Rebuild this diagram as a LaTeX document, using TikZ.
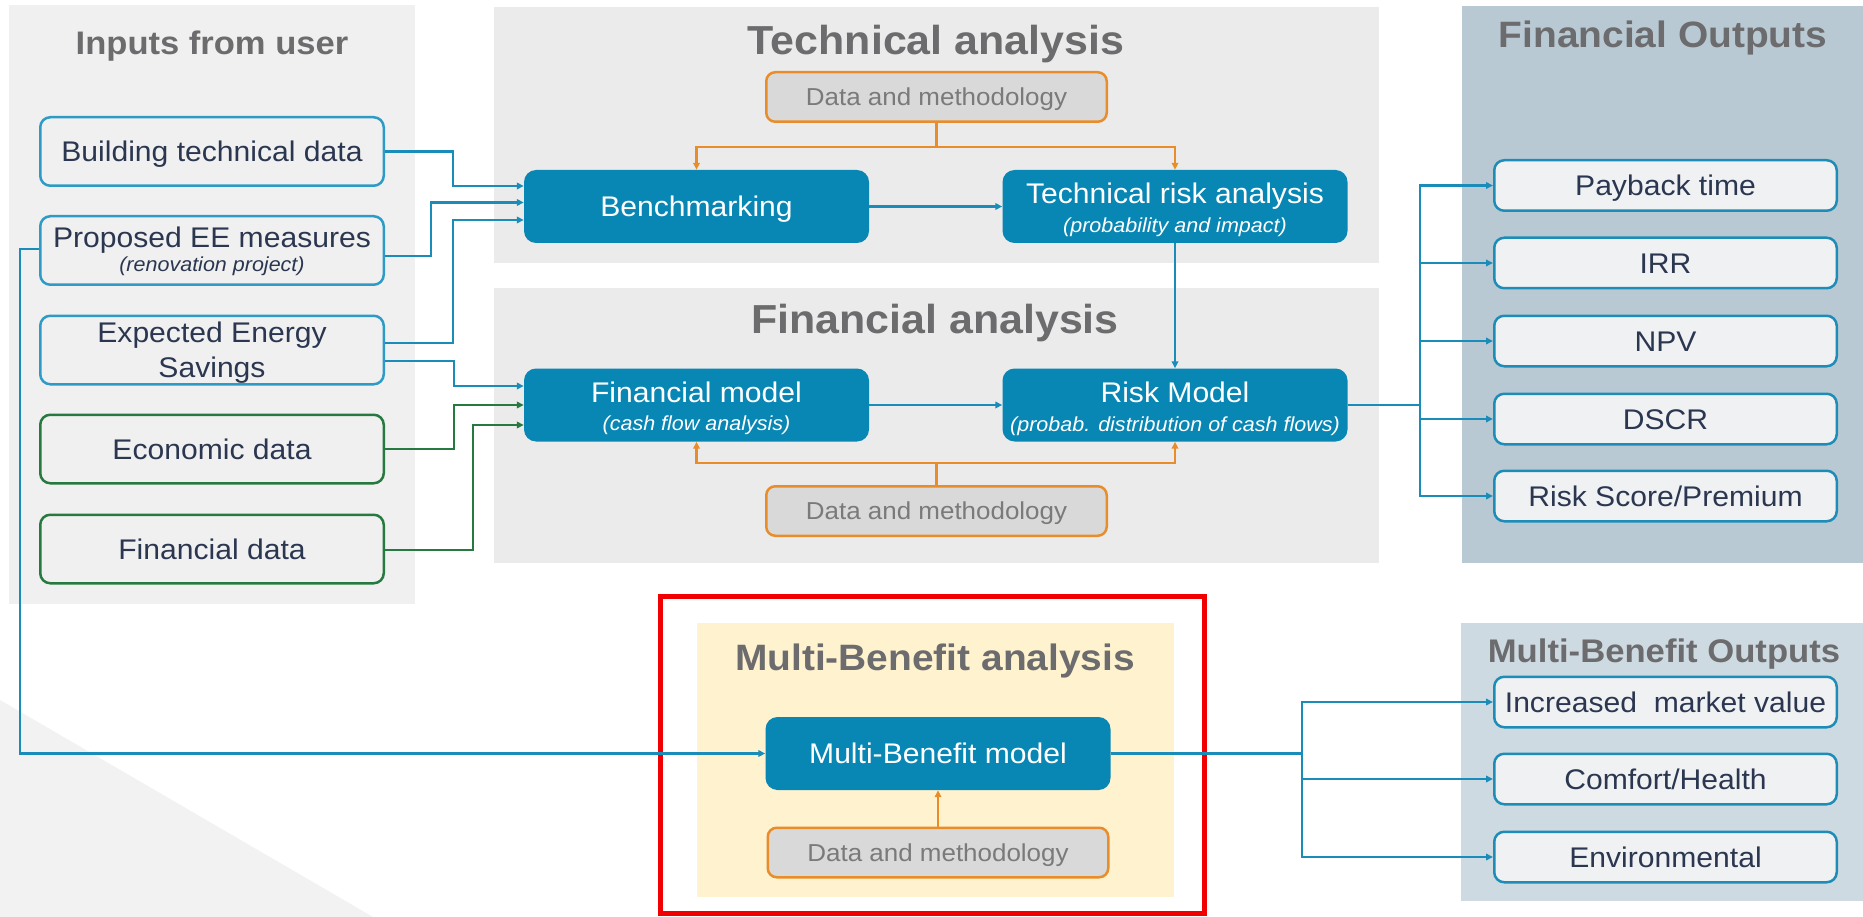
\documentclass[tikz,border=0pt]{standalone}
\usepackage{fontspec}
\setmainfont{Liberation Sans}[FakeStretch=1.06]
\usetikzlibrary{arrows.meta,calc}

\definecolor{inpanel}{RGB}{240,240,240}
\definecolor{anpanel}{RGB}{235,235,235}
\definecolor{fopanel}{RGB}{184,201,211}
\definecolor{mopanel}{RGB}{206,218,225}
\definecolor{mbpanel}{RGB}{255,242,206}
\definecolor{bgtri}{RGB}{242,242,242}
\definecolor{boxblue}{RGB}{8,134,180}
\definecolor{lineblue}{RGB}{26,140,186}
\definecolor{inblue}{RGB}{46,155,198}
\definecolor{outblue}{RGB}{29,141,184}
\definecolor{outfill}{RGB}{240,241,243}
\definecolor{boxgreen}{RGB}{38,122,64}
\definecolor{navy}{RGB}{43,55,80}
\definecolor{titlegray}{RGB}{108,108,110}
\definecolor{methorange}{RGB}{232,141,42}
\definecolor{datagray}{RGB}{217,217,217}
\definecolor{datatext}{RGB}{122,122,122}
\definecolor{framered}{RGB}{240,0,0}

\begin{document}
\begin{tikzpicture}[x=1pt,y=-1pt,
  tip/.style={-{Triangle[length=7pt,width=6.5pt]}},
  conn/.style={line width=2.4pt, draw=lineblue, tip},
  gconn/.style={line width=2.4pt, draw=boxgreen, tip},
  oconn/.style={line width=2.6pt, draw=methorange, tip},
  boxtext/.style={font=\fontsize{28.4}{34}\selectfont, text height=20.3pt, text depth=0pt, inner sep=0pt},
  inbox/.style={boxtext, draw=inblue, line width=2.5pt, rounded corners=10pt, fill=inpanel,
    minimum width=343.5pt, minimum height=68.5pt, text=navy},
  greenbox/.style={inbox, draw=boxgreen},
  bluebox/.style={boxtext, fill=boxblue, rounded corners=12pt, minimum width=345pt,
    minimum height=73pt, text=white},
  databox/.style={draw=methorange, line width=2.5pt, fill=datagray, rounded corners=9pt,
    minimum width=340.5pt, minimum height=49.5pt, text=datatext, inner sep=0pt,
    font=\fontsize{24.5}{29}\selectfont, text height=17.5pt, text depth=0pt},
  outbox/.style={boxtext, draw=outblue, line width=2.5pt, fill=outfill, rounded corners=10pt,
    minimum width=342.5pt, minimum height=50.5pt, text=navy},
  mainline/.style={anchor=base, inner sep=0pt, font=\fontsize{28.4}{34}\selectfont},
  subline/.style={anchor=base, inner sep=0pt, font=\fontsize{20.3}{24}\selectfont\itshape},
  heading/.style={anchor=base, inner sep=0pt, text=titlegray, font=\bfseries\fontsize{#1}{#1}\selectfont},
]
\useasboundingbox (0,0) rectangle (1863,917);
\fill[white] (0,0) rectangle (1863,917);
\fill[bgtri] (0,700) -- (373,917) -- (0,917) -- cycle;

% panels
\fill[inpanel] (9,5) rectangle (415,604);
\fill[anpanel] (494,7) rectangle (1379,263);
\fill[anpanel] (494,288) rectangle (1379,563);
\fill[fopanel] (1462,6) rectangle (1863,563);
\fill[mopanel] (1461,623) rectangle (1863,901);
\fill[mbpanel] (697,623) rectangle (1174,897);
\draw[framered, line width=5pt] (660.5,596.5) rectangle (1204.5,913.5);

% headings
\node[heading=32.6] (hin) at (212,55) {Inputs from user};
\node[heading=40.5] (htech) at (936,55) {Technical analysis};
\node[heading=40.5] (hfin) at (935,333) {Financial analysis};
\node[heading=36.7] (hmb) at (935,670) {Multi-Benefit analysis};
\node[heading=36.7] (hfo) at (1663,48) {Financial Outputs};
\node[heading=32.7] (hmo) at (1664,662) {Multi-Benefit Outputs};

% user inputs
\node[inbox] (bt) at (212,151.5) {Building technical data};
\node[inbox] (pee) at (212,250.5) {};
\node[mainline, text=navy] (peeA) at ($(pee.center)+(0,-2.5)$) {Proposed EE measures};
\node[subline, text=navy] (peeB) at ($(pee.center)+(0,21.5)$) {(renovation project)};
\node[inbox] (ees) at (212,350) {};
\node[mainline, text=navy] (eesA) at ($(ees.center)+(0,-8)$) {Expected Energy};
\node[mainline, text=navy] (eesB) at ($(ees.center)+(0,27)$) {Savings};
\node[greenbox] (eco) at (212,449) {Economic data};
\node[greenbox] (fin) at (212,549) {Financial data};

% technical analysis
\node[databox] (d1) at (936.5,97) {Data and methodology};
\node[bluebox] (bench) at (696.5,206.5) {Benchmarking};
\node[bluebox] (trisk) at (1175,206.5) {};
\node[mainline, text=white] (triskA) at ($(trisk.center)+(0,-3)$) {Technical risk analysis};
\node[subline, text=white] (triskB) at ($(trisk.center)+(0,26.5)$) {(probability and impact)};

% financial analysis
\node[bluebox] (fmodel) at (696.5,405) {};
\node[mainline, text=white] (fmodelA) at ($(fmodel.center)+(0,-3)$) {Financial model};
\node[subline, text=white] (fmodelB) at ($(fmodel.center)+(0,25.5)$) {(cash flow analysis)};
\node[bluebox] (rmodel) at (1175,405) {};
\node[mainline, text=white] (rmodelA) at ($(rmodel.center)+(0,-2.5)$) {Risk Model};
\node[subline, text=white] (rmodelB) at ($(rmodel.center)+(0,26.5)$) {(probab. distribution of cash flows)};
\node[databox] (d2) at (936.5,511) {Data and methodology};

% multi-benefit analysis
\node[bluebox] (mbmodel) at (938,753.5) {Multi-Benefit model};
\node[databox] (d3) at (938,852.5) {Data and methodology};

% outputs
\node[outbox] (pay) at (1665.5,185.5) {Payback time};
\node[outbox] (irr) at (1665.5,263) {IRR};
\node[outbox] (npv) at (1665.5,341) {NPV};
\node[outbox] (dscr) at (1665.5,419) {DSCR};
\node[outbox] (rsp) at (1665.5,496) {Risk Score/Premium};
\node[outbox] (imv) at (1665.5,702) {Increased\ \ market value};
\node[outbox] (ch) at (1665.5,779) {Comfort/Health};
\node[outbox] (env) at (1665.5,857) {Environmental};

% inputs into the analyses
\draw[conn] (bt.east) -- ++(68,0) |- ($(bench.west)+(0,-20.5)$);
\draw[conn] ($(pee.east)+(0,5.5)$) -- ++(46,0) |- ($(bench.west)+(0,-4)$);
\draw[conn] ($(ees.east)+(0,-7)$) -- ++(68,0) |- ($(bench.west)+(0,13.5)$);
\draw[conn] ($(ees.east)+(0,11)$) -- ++(69,0) |- ($(fmodel.west)+(0,-19)$);
\draw[gconn] (eco.east) -- ++(69,0) |- (fmodel.west);
\draw[gconn] ($(fin.east)+(0,1)$) -- ++(88,0) |- ($(fmodel.west)+(0,20)$);
\draw[conn] ($(pee.west)+(0,-1.5)$) -- ++(-19,0) |- (mbmodel.west);

% flow between models
\draw[conn] (bench) -- (trisk);
\draw[conn] (trisk) -- (rmodel);
\draw[conn] (fmodel) -- (rmodel);

% data and methodology feeds
\draw[oconn] (d1.south) -- ++(0,24) -| (bench.north);
\draw[oconn] (d1.south) -- ++(0,24) -| (trisk.north);
\draw[oconn] (d2.north) -- ++(0,-22) -| (fmodel.south);
\draw[oconn] (d2.north) -- ++(0,-22) -| (rmodel.south);
\draw[oconn] (d3.north) -- (mbmodel.south);

% outputs
\foreach \o in {pay,irr,npv,dscr,rsp}
  \draw[conn] (rmodel.east) -- ++(72,0) |- (\o.west);
\foreach \o in {imv,ch,env}
  \draw[conn] (mbmodel.east) -- ++(191,0) |- (\o.west);
\end{tikzpicture}
\end{document}
